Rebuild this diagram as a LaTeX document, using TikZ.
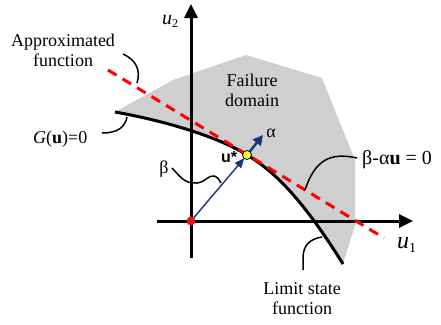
\documentclass[tikz,border=0pt]{standalone}
\usepackage{fontspec}
\setmainfont{Liberation Serif}
\newfontfamily\sansb{Liberation Sans}
\usetikzlibrary{arrows.meta}
\definecolor{failgray}{RGB}{207,207,209}
\definecolor{navy}{RGB}{24,52,120}
\definecolor{dotred}{RGB}{235,20,20}
\definecolor{dotyellow}{RGB}{255,255,40}
\tikzset{
  axisline/.style={line width=3pt,-{Triangle[length=14pt,width=13pt]}},
  lsf/.style={line width=3pt},
  approx/.style={draw=red,line width=3pt,dash pattern=on 10pt off 7pt},
  leader/.style={line width=1.5pt},
  lbl/.style={font=\fontsize{18}{20}\selectfont,inner sep=0pt,align=center},
  vecthin/.style={draw=navy,line width=1.4pt,-{Triangle[length=10pt,width=8pt]}},
  vecthick/.style={draw=navy,line width=2.4pt,-{Triangle[length=10pt,width=10pt]}},
}
\begin{document}
\begin{tikzpicture}[x=1pt,y=-1pt]
\useasboundingbox (0,0) rectangle (441,324);
% key points
\coordinate (O) at (191,221);
\coordinate (ustar) at (247,155);
\coordinate (cs) at (115,112);
\coordinate (ce) at (343,264);
% failure domain
\fill[failgray] (cs) -- (173,80) -- (246,55) -- (322,78) -- (355,160) -- (355,225) -- (ce)
  .. controls (300,195) and (272,170) .. (ustar)
  .. controls (215,135) and (160,120) .. (cs) -- cycle;
% axes
\coordinate (xs) at (157,221);
\coordinate (xe) at (413,221);
\coordinate (ys) at (191,258);
\coordinate (ye) at (191,4);
\draw[axisline] (xs) -- (xe);
\draw[axisline] (ys) -- (ye);
% limit state curve
\draw[lsf] (cs) .. controls (160,120) and (215,135) .. (ustar)
  .. controls (272,170) and (300,195) .. (ce);
% approximated function
\coordinate (as) at (108,70);
\coordinate (ae) at (384,238);
\draw[approx] (as) -- (ae);
% vectors
\coordinate (atip) at (263,135);
\draw[vecthin,shorten >=4pt] (O) -- (ustar);
\draw[vecthick,shorten <=3pt] (ustar) -- (atip);
\fill[dotred] (O) circle (4.5pt);
\filldraw[fill=dotyellow,draw=black,line width=0.8pt] (ustar) circle (4.5pt);
% labels
\node[inner sep=0pt,anchor=base west,font=\fontsize{20}{22}\selectfont] (u2) at (162,24) {\textit{u}\raisebox{-3pt}{\fontsize{12}{12}\selectfont 2}};
\node[inner sep=0pt,anchor=base west,font=\fontsize{24}{26}\selectfont] (u1) at (397,248) {\textit{u}\raisebox{-4pt}{\fontsize{14}{14}\selectfont 1}};
\node[lbl] (approxlbl) at (63,50) {Approximated\\function};
\node[lbl] (faillbl) at (252,90) {Failure\\domain};
\node[lbl,anchor=west] (glbl) at (33,139) {\textit{G}(\textbf{u})=0};
\node[lbl] (betalbl) at (164,169) {β};
\node[lbl] (alphalbl) at (271,133) {α};
\node[inner sep=0pt,font=\sansb\bfseries\fontsize{16}{18}\selectfont] (ulbl) at (229,157) {u*};
\node[inner sep=0pt,anchor=west,font=\fontsize{20}{22}\selectfont] (planelbl) at (362,160) {β-α\textbf{u} = 0};
\node[lbl] (limlbl) at (302,299) {Limit state\\function};
% leaders
\coordinate (a1) at (123,54);
\coordinate (a2) at (137,83);
\draw[leader] (a1) .. controls (136,60) and (141,70) .. (a2);
\coordinate (g1) at (102,133);
\coordinate (g2) at (127,117);
\draw[leader] (g1) .. controls (118,133) and (125,127) .. (g2);
\coordinate (b1) at (172,168);
\coordinate (b2) at (197,183);
\coordinate (b3) at (214,176);
\coordinate (b4) at (221,183);
\draw[leader] (b1) .. controls (180,176) and (184,184) .. (b2)
  .. controls (206,182) and (208,175) .. (b3)
  .. controls (218,177) and (219,180) .. (b4);
\coordinate (p1) at (357,158);
\coordinate (p2) at (305,190);
\draw[leader] (p1) .. controls (330,152) and (315,160) .. (p2);
\coordinate (l1) at (303,270);
\coordinate (l2) at (303,258);
\coordinate (l3) at (322,237);
\draw[leader] (l1) -- (l2) .. controls (303,245) and (310,239) .. (l3);
\end{tikzpicture}
\end{document}
